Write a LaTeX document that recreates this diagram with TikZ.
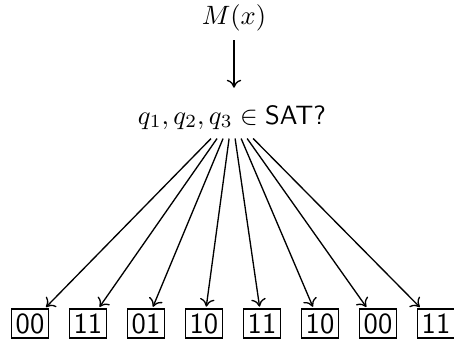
\documentclass[tikz,border=0pt]{standalone}
\usetikzlibrary{arrows.meta}
\begin{document}
\begin{tikzpicture}[x=0.377pt,y=-0.377pt,
  lbl/.style={anchor=base, inner sep=0.3333em},
  bitbox/.style={draw, line width=0.5pt, inner xsep=1.5pt, inner ysep=1.9pt, font=\fontsize{11}{13}\selectfont\sffamily, text height=7.2pt, text depth=0pt},
  conn/.style={-{To[length=3pt,width=5.5pt]}, line width=0.5pt, shorten >=0.6pt}]
\useasboundingbox (0,0) rectangle (454,339);
\node[lbl] (M) at (234,24) {$M(x)$};
\node[lbl] (q) at (232,124) {$q_1, q_2, q_3 \in \textsf{SAT?}$};
\draw[conn, shorten >=3pt] (M.south) -- (M.south |- q.north);
\foreach \lab [count=\i from 0] in {00,11,01,10,11,10,00,11} {
  \node[bitbox] (b\i) at (30+58*\i,323.5) {\lab};
  \draw[conn] (q) -- (b\i);
}
\end{tikzpicture}
\end{document}
